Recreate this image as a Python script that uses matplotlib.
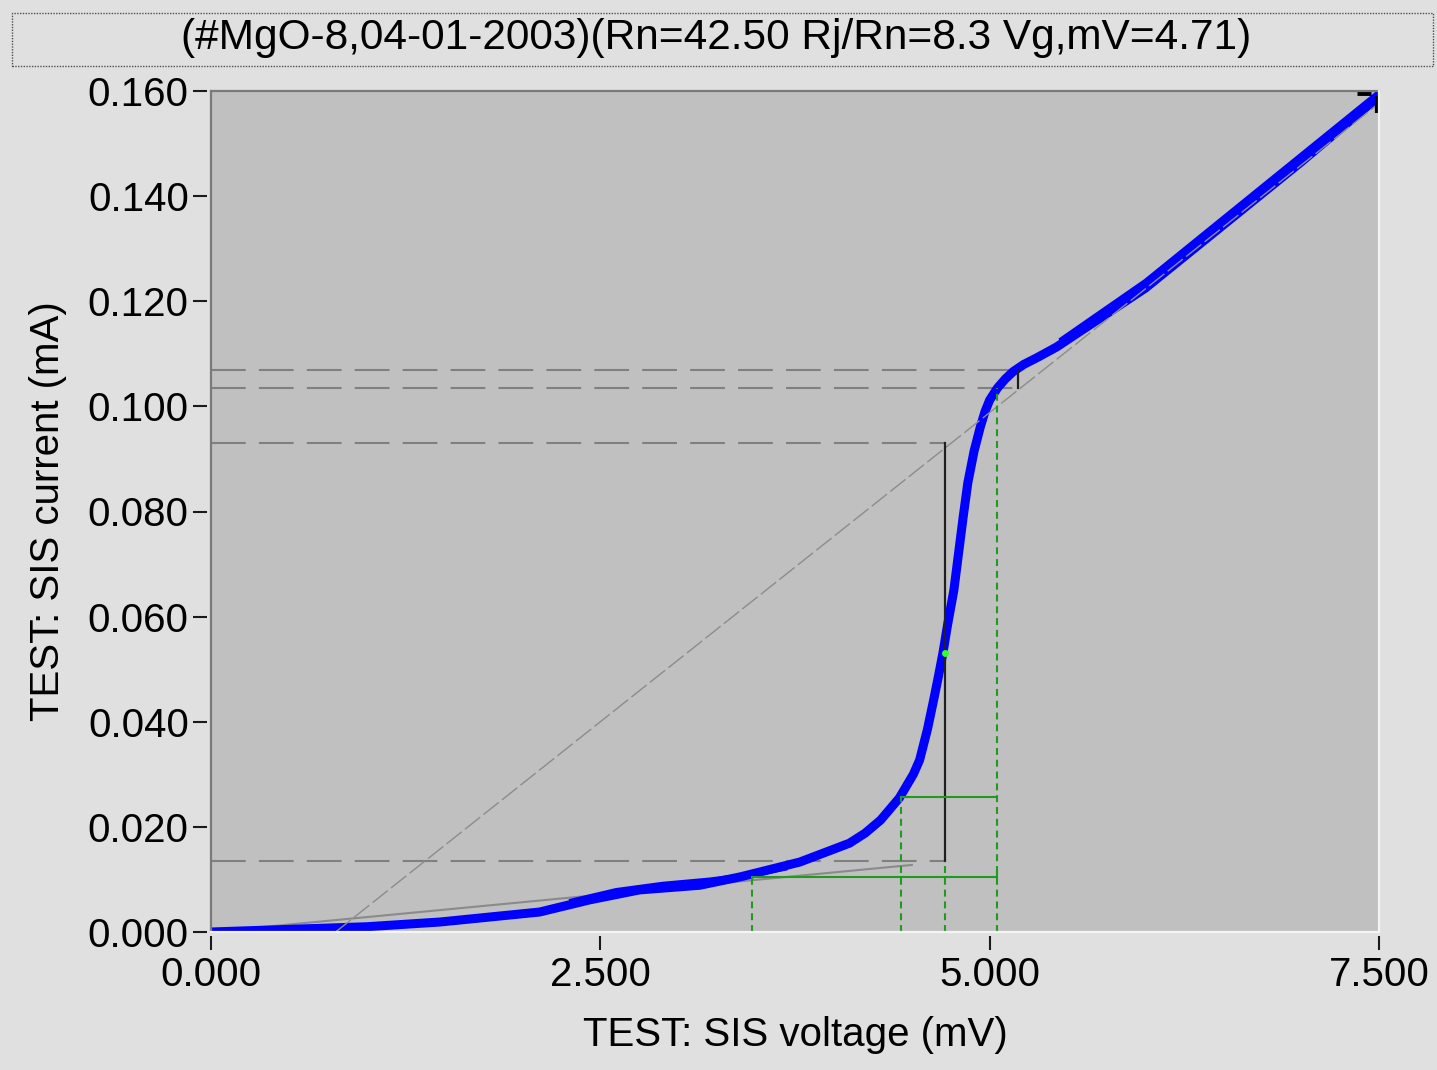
import matplotlib
matplotlib.use("Agg")
import matplotlib.pyplot as plt
from matplotlib.patches import Rectangle
from matplotlib.lines import Line2D

# ---- data -------------------------------------------------------------
# SIS junction I-V curve (forward sweep), voltage in mV, current in mA
v_sweep = [0.00, 0.30, 0.60, 1.00, 1.47, 2.11, 2.43, 2.75, 3.14, 3.40, 3.78,
           4.10, 4.20, 4.30, 4.42, 4.51, 4.55, 4.60, 4.64, 4.67, 4.70, 4.73,
           4.77, 4.80, 4.83, 4.86, 4.90, 4.94, 4.97, 5.00, 5.05, 5.10, 5.15,
           5.22, 5.30, 5.43, 6.00, 6.50, 7.00, 7.50]
i_sweep = [0.0000, 0.0003, 0.0006, 0.0010, 0.0019, 0.0038, 0.0061, 0.0080,
           0.0089, 0.0105, 0.0133, 0.0169, 0.0188, 0.0213, 0.0255, 0.0300,
           0.0327, 0.0385, 0.0441, 0.0485, 0.0531, 0.0585, 0.0650, 0.0720,
           0.0790, 0.0855, 0.0915, 0.0961, 0.0990, 0.1012, 0.1035, 0.1052,
           0.1066, 0.1080, 0.1092, 0.1113, 0.1225, 0.1345, 0.1465, 0.1590]

# return sweep, sub-gap branch
v_return_sub = [2.30, 2.60, 2.90, 3.20, 3.50, 3.70]
i_return_sub = [0.0058, 0.0079, 0.0091, 0.0099, 0.0110, 0.0122]
# return sweep, normal branch
v_return_norm = [5.45, 6.00, 6.50, 7.00, 7.50]
i_return_norm = [0.1125, 0.1238, 0.1358, 0.1478, 0.1598]

# fit parameters
rn_ohm = 42.50
rj_over_rn = 8.3
v_gap = 4.71            # mV
v_offset = 0.80         # mV, intercept of the normal-resistance line
i_gap_mid = 0.0531      # mA, current at the gap voltage

# quantities used for the gap construction
i_sub = 0.0135          # sub-gap current at V_gap
i_top = 0.0930          # current on the Rn line at V_gap
i_knee_lo = 0.1035
i_knee_hi = 0.1070
v_knee = 5.18

# green construction (gap width)
v_g1, v_g2, v_g3 = 3.475, 4.43, 5.05
i_g_lo, i_g_hi = 0.0105, 0.0257

# subgap resistance line end
v_sub_end = 4.50

# red low-bias segment
v_red = [0.00, 0.25]
i_red = [0.0001, 0.0001]

# corner marks
v_corner_h = [7.36, 7.45]
i_corner_h = [0.1596, 0.1596]
v_corner_v = [7.49, 7.49]
i_corner_v = [0.1558, 0.1590]

title = "(#MgO-8,04-01-2003)(Rn=42.50 Rj/Rn=8.3 Vg,mV=4.71)"
x_ticks = [0.0, 2.5, 5.0, 7.5]
y_ticks = [0.000, 0.020, 0.040, 0.060, 0.080, 0.100, 0.120, 0.140, 0.160]

# ---- figure -----------------------------------------------------------
W, H = 1437, 1070
DPI = 100
plt.rcParams["font.family"] = ["Liberation Sans", "DejaVu Sans"]
plt.rcParams["lines.scale_dashes"] = False

fig = plt.figure(figsize=(W / DPI, H / DPI), dpi=DPI, facecolor="#e0e0e0")

L, R, T, B = 211, 1379, 91, 932
ax = fig.add_axes([L / W, 1 - B / H, (R - L) / W, (B - T) / H])
ax.set_facecolor("#c0c0c0")
ax.set_xlim(0, 7.5)
ax.set_ylim(0, 0.16)

# frame: dark on top/left, light on bottom/right
for side in ["top", "left", "bottom", "right"]:
    ax.spines[side].set_visible(False)
frame_kw = dict(transform=ax.transAxes, clip_on=False, lw=1.6, zorder=10)
ax.add_line(Line2D([0, 0], [0, 1], color="#7a7a7a", **frame_kw))
ax.add_line(Line2D([0, 1], [1, 1], color="#7a7a7a", **frame_kw))
ax.add_line(Line2D([0, 1], [0, 0], color="#f4f4f4", **frame_kw))
ax.add_line(Line2D([1, 1], [0, 1], color="#f4f4f4", **frame_kw))

# ticks sit a few pixels away from the plot area
ax.spines["left"].set_position(("outward", 3))
ax.spines["bottom"].set_position(("outward", 3))
ax.set_xticks(x_ticks)
ax.set_yticks(y_ticks)
ax.set_xticklabels([f"{t:.3f}" for t in x_ticks])
ax.set_yticklabels([f"{t:.3f}" for t in y_ticks])
ax.tick_params(axis="both", direction="out", length=10, width=1.5,
               color="#1a1a1a", labelsize=29, labelcolor="black")
ax.tick_params(axis="y", pad=3)
ax.tick_params(axis="x", pad=4)

# ---- guide lines ------------------------------------------------------
dash_long = (25, 9.5)
gray = "#808080"
ax.plot([0, v_gap], [i_sub, i_sub], color=gray, lw=1.5, dashes=dash_long, zorder=2)
ax.plot([0, v_gap], [i_top, i_top], color=gray, lw=1.5, dashes=dash_long, zorder=2)
ax.plot([0, v_knee], [i_knee_lo, i_knee_lo], color=gray, lw=1.5, dashes=dash_long, zorder=2)
ax.plot([0, v_knee], [i_knee_hi, i_knee_hi], color=gray, lw=1.5, dashes=dash_long, zorder=2)

# sub-gap resistance line through the origin (mA per mV)
slope_sub = 1.0 / (rn_ohm * rj_over_rn)
ax.plot([0, v_sub_end], [0, slope_sub * v_sub_end], color="#8a8a8a",
        lw=1.5, zorder=2)

# red low-bias segment
ax.plot(v_red, i_red, color="#b00000", lw=2.2, zorder=3)

# measured curve
for vr, ir in [(v_return_sub, i_return_sub), (v_return_norm, i_return_norm)]:
    ax.plot(vr, ir, color="#0000ff", lw=3.5, zorder=4, solid_capstyle="butt")
ax.plot(v_sweep, i_sweep, color="#0000ff", lw=6.5, zorder=4,
        solid_joinstyle="round")

# normal-resistance line
slope_rn = 1.0 / rn_ohm
ax.plot([v_offset, 7.5], [0, slope_rn * (7.5 - v_offset)], color="#8c8c8c",
        lw=1.0, dashes=(14, 3), zorder=5)

# gap construction in black
ax.plot([v_gap, v_gap], [i_sub, i_top], color="#202020", lw=1.6, zorder=6)
ax.plot([v_knee, v_knee], [i_knee_lo, i_knee_hi], color="#202020", lw=1.6, zorder=6)

# green gap-width construction
green = "#229a22"
dot = (5, 3.5)
for v, top in [(v_g1, i_g_lo), (v_g2, i_g_hi), (v_gap, i_sub), (v_g3, i_knee_lo)]:
    ax.plot([v, v], [0, top], color=green, lw=1.5, dashes=dot, zorder=6)
ax.plot([v_g1, v_g3], [i_g_lo, i_g_lo], color=green, lw=1.5, zorder=6)
ax.plot([v_g2, v_g3], [i_g_hi, i_g_hi], color=green, lw=1.5, zorder=6)
ax.plot([v_g3, v_g3], [i_g_lo, i_g_lo + 0.001], color=green, lw=1.5, zorder=6)

# marker at the gap voltage
ax.plot([v_gap], [i_gap_mid], "o", color="#30ff30", ms=5, mec="none", zorder=7)

# corner marks
ax.plot(v_corner_h, i_corner_h, color="black", lw=3.5, zorder=7,
        solid_capstyle="butt", clip_on=False)
ax.plot(v_corner_v, i_corner_v, color="black", lw=3.0, zorder=7,
        solid_capstyle="butt", clip_on=False)

# ---- labels -----------------------------------------------------------
fig.text(795 / W, 1 - 1035 / H, "TEST: SIS voltage (mV)", ha="center",
         va="center", fontsize=29)
fig.text(48 / W, 1 - 511 / H, "TEST: SIS current (mA)", ha="center",
         va="center", rotation=90, fontsize=29)

# title box
fig.patches.append(Rectangle((12 / W, 1 - 66 / H), (1433 - 12) / W, 53 / H,
                             transform=fig.transFigure, facecolor="#e0e0e0",
                             edgecolor="#505050", lw=1.0, linestyle=(0, (1, 1))))
fig.text(716 / W, 1 - 38 / H, title, ha="center", va="center", fontsize=30.5)

fig.savefig("out.png", dpi=DPI, facecolor=fig.get_facecolor())
